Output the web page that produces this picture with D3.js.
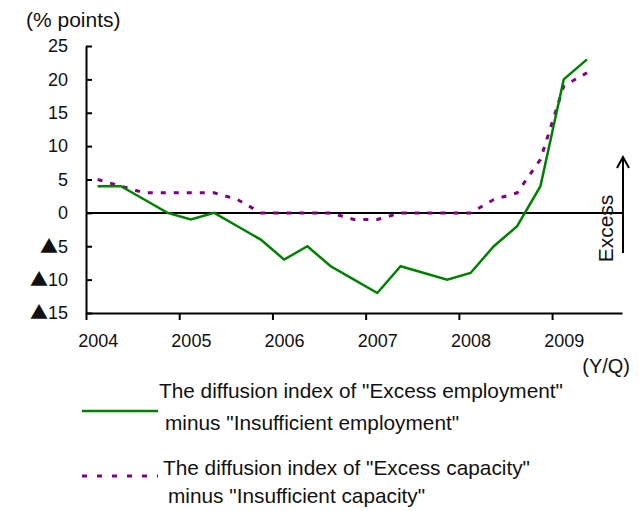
<!DOCTYPE html>
<html lang="en">
<head>
<meta charset="UTF-8">
<title>Diffusion index</title>
<script src="https://d3js.org/d3.v7.min.js"></script>
<style>
  body { margin: 0; background: #fff; }
  svg text { font-family: "Liberation Sans", Arial, sans-serif; fill: #111; }
</style>
</head>
<body>
<div id="chart"></div>
<script>
// quarters 2004Q1 .. 2009Q3 (last slot empty)
const quarters = ["04Q1","04Q2","04Q3","04Q4","05Q1","05Q2","05Q3","05Q4",
                  "06Q1","06Q2","06Q3","06Q4","07Q1","07Q2","07Q3","07Q4",
                  "08Q1","08Q2","08Q3","08Q4","09Q1","09Q2","09Q3"];
const employment = [4,4,2,0,-1,0,-2,-4,-7,-5,-8,-10,-12,-8,-9,-10,-9,-5,-2,4,20,23];
const capacity   = [5,4,3,3,3,3,2,0,0,0,0,-1,-1,0,0,0,0,2,3,8,19,21];
const yearTicks = [0,4,8,12,16,20];
const yearLabels = ["2004","2005","2006","2007","2008","2009"];
const yTicks = [-15,-10,-5,0,5,10,15,20,25];

const w = 639, h = 511;
const padL = 86, padR = 622, padT = 46, padB = 313;

const svg = d3.select("#chart").append("svg")
  .attr("width", w).attr("height", h);

const x = d3.scaleLinear().domain([0, quarters.length]).range([padL, padR]);
const y = d3.scaleLinear().domain([-15, 25]).range([padB, padT]);

// y axis
const yAxis = d3.axisLeft(y)
  .tickValues(yTicks)
  .tickSize(-6).tickSizeOuter(0).tickPadding(18);
const gy = svg.append("g").attr("transform", "translate(" + padL + ",0)").call(yAxis);
gy.selectAll("path, line").attr("stroke", "#000").attr("stroke-width", 2);
gy.selectAll("text").attr("font-size", 18).attr("fill", "#111")
  .each(function(d) {
    if (d < 0) {
      const t = d3.select(this).text(null);
      t.append("tspan").attr("font-family", "Noto Sans CJK JP").text("\u25B2");
      t.append("tspan").text(Math.abs(d));
    }
  });

// x axis, labels sit on the first quarter of each year
const xAxis = d3.axisBottom(x)
  .tickValues(yearTicks)
  .tickSize(7).tickSizeOuter(0).tickPadding(14)
  .tickFormat((d, i) => yearLabels[i]);
const gx = svg.append("g").attr("transform", "translate(0," + padB + ")").call(xAxis);
gx.selectAll("path, line").attr("stroke", "#000").attr("stroke-width", 2);
gx.selectAll("text").attr("font-size", 18).attr("fill", "#111")
  .attr("dx", x(0.5) - x(0));

// zero line
svg.append("line")
  .attr("x1", x(0)).attr("x2", x(quarters.length))
  .attr("y1", y(0)).attr("y2", y(0))
  .attr("stroke", "#000").attr("stroke-width", 2);

const line = d3.line()
  .x((d, i) => x(i + 0.5))
  .y(d => y(d));

svg.append("path")
  .datum(capacity)
  .attr("d", line)
  .attr("fill", "none")
  .attr("stroke", "#800080")
  .attr("stroke-width", 3)
  .attr("stroke-dasharray", "5,8");

svg.append("path")
  .datum(employment)
  .attr("d", line)
  .attr("fill", "none")
  .attr("stroke", "#008000")
  .attr("stroke-width", 2.5);

// labels
svg.append("text").attr("x", 26).attr("y", 27).attr("font-size", 21).text("(% points)");
svg.append("text").attr("x", 630).attr("y", 373).attr("font-size", 20)
  .attr("text-anchor", "end").text("(Y/Q)");

// "Excess" arrow
svg.append("text")
  .attr("transform", "translate(613,228.5) rotate(-90)")
  .attr("text-anchor", "middle").attr("font-size", 21).text("Excess");
svg.append("path")
  .attr("d", "M623,253 L623,157 M617,168 L623,157 L629,168")
  .attr("fill", "none").attr("stroke", "#000").attr("stroke-width", 2);

// legend
const lg = svg.append("g");
lg.append("line").attr("x1", 82).attr("x2", 158).attr("y1", 411).attr("y2", 411)
  .attr("stroke", "#008000").attr("stroke-width", 2.5);
lg.append("text").attr("x", 159).attr("y", 398).attr("font-size", 20.8)
  .text('The diffusion index of "Excess employment"');
lg.append("text").attr("x", 165).attr("y", 430).attr("font-size", 20.8)
  .text('minus "Insufficient employment"');
lg.append("line").attr("x1", 82).attr("x2", 158).attr("y1", 476).attr("y2", 476)
  .attr("stroke", "#800080").attr("stroke-width", 3).attr("stroke-dasharray", "5,10");
lg.append("text").attr("x", 163).attr("y", 475).attr("font-size", 20.8)
  .text('The diffusion index of "Excess capacity"');
lg.append("text").attr("x", 168).attr("y", 503).attr("font-size", 20.8)
  .text('minus "Insufficient capacity"');
</script>
</body>
</html>
